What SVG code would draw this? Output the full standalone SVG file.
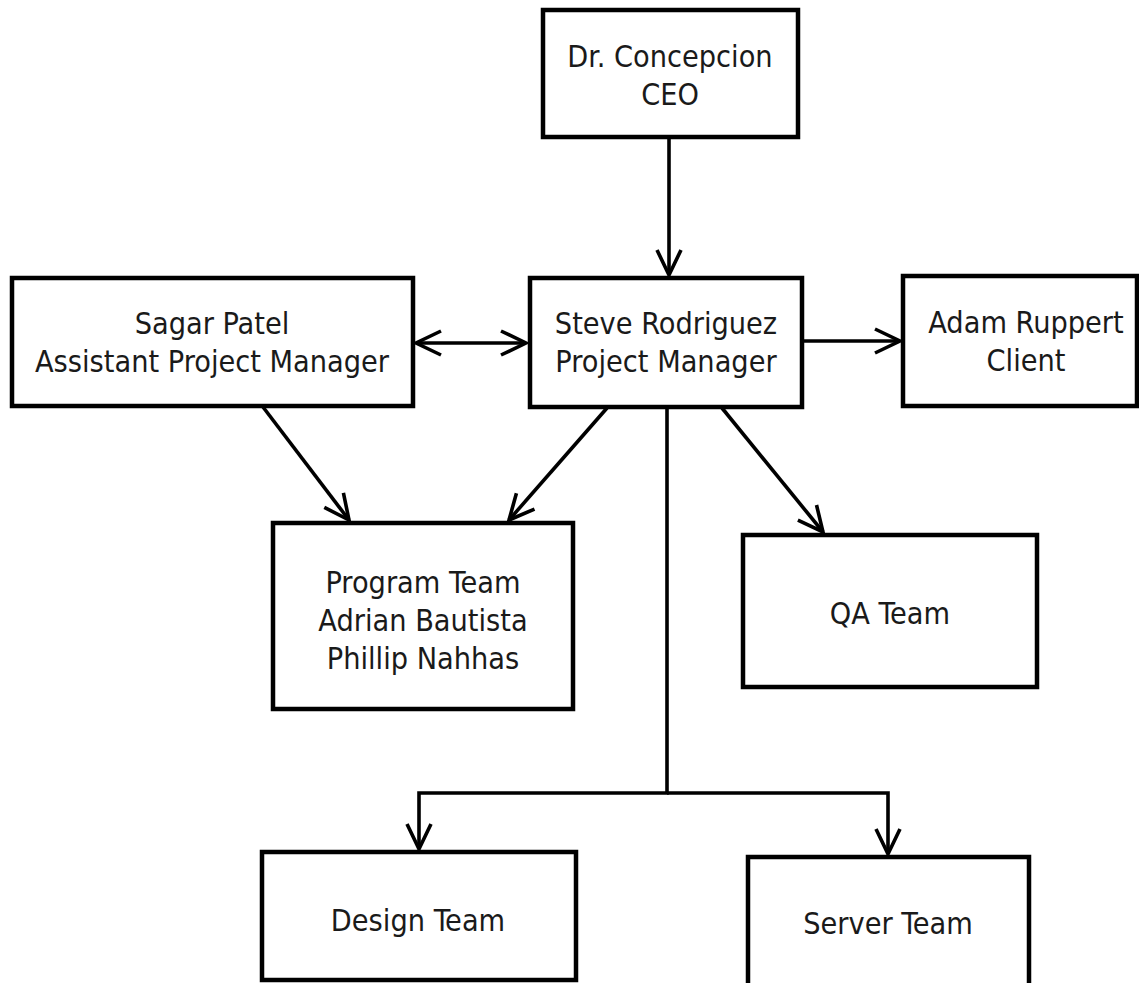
<svg xmlns="http://www.w3.org/2000/svg" width="1139" height="983" viewBox="0 0 1139 983">
<style>
  .box { fill: #ffffff; stroke: #000000; stroke-width: 4.5; }
  .lbl { font-family: "DejaVu Sans Condensed", "DejaVu Sans", Verdana, sans-serif; font-stretch: condensed; font-size: 30.3px; fill: #1a1a1a; text-anchor: middle; }
  .con { fill: none; stroke: #000000; stroke-width: 3.6; }
</style>
<defs>
  <marker id="ah" viewBox="-28 -15 30 30" refX="0" refY="0" markerWidth="30" markerHeight="30" markerUnits="userSpaceOnUse" orient="auto-start-reverse">
    <path d="M-25,-12 L0,0 L-25,12" fill="none" stroke="#000000" stroke-width="3.6" stroke-linejoin="miter"/>
  </marker>
</defs>
<rect x="0" y="0" width="1139" height="983" fill="#ffffff"/>
<g id="connectors">
  <line class="con" x1="669" y1="137" x2="669" y2="275" marker-end="url(#ah)"/>
  <line class="con" x1="416" y1="343" x2="526" y2="343" marker-start="url(#ah)" marker-end="url(#ah)"/>
  <line class="con" x1="803" y1="341" x2="900" y2="341" marker-end="url(#ah)"/>
  <line class="con" x1="263" y1="407" x2="349" y2="520" marker-end="url(#ah)"/>
  <line class="con" x1="607" y1="408" x2="509" y2="520" marker-end="url(#ah)"/>
  <line class="con" x1="722" y1="408" x2="823" y2="532" marker-end="url(#ah)"/>
  <path class="con" d="M667,407 V793 H419 V849" marker-end="url(#ah)"/>
  <path class="con" d="M667,793 H888 V854" marker-end="url(#ah)"/>
</g>
<g id="ceo">
  <rect class="box" x="543" y="10" width="255" height="127"/>
  <text class="lbl" x="670" y="67">Dr. Concepcion</text>
  <text class="lbl" x="670" y="105">CEO</text>
</g>
<g id="sagar">
  <rect class="box" x="12" y="278" width="401" height="128"/>
  <text class="lbl" x="212" y="334">Sagar Patel</text>
  <text class="lbl" x="212" y="372">Assistant Project Manager</text>
</g>
<g id="steve">
  <rect class="box" x="530" y="278" width="272" height="129"/>
  <text class="lbl" x="666" y="334">Steve Rodriguez</text>
  <text class="lbl" x="666" y="372">Project Manager</text>
</g>
<g id="adam">
  <rect class="box" x="903" y="276" width="234" height="130"/>
  <text class="lbl" x="1026" y="333">Adam Ruppert</text>
  <text class="lbl" x="1026" y="371">Client</text>
</g>
<g id="program">
  <rect class="box" x="273" y="523" width="300" height="186"/>
  <text class="lbl" x="423" y="593">Program Team</text>
  <text class="lbl" x="423" y="631">Adrian Bautista</text>
  <text class="lbl" x="423" y="669">Phillip Nahhas</text>
</g>
<g id="qa">
  <rect class="box" x="743" y="535" width="294" height="152"/>
  <text class="lbl" x="890" y="624">QA Team</text>
</g>
<g id="design">
  <rect class="box" x="262" y="852" width="314" height="128"/>
  <text class="lbl" x="418" y="931">Design Team</text>
</g>
<g id="server">
  <rect class="box" x="748" y="857" width="281" height="130"/>
  <text class="lbl" x="888" y="934">Server Team</text>
</g>
</svg>
